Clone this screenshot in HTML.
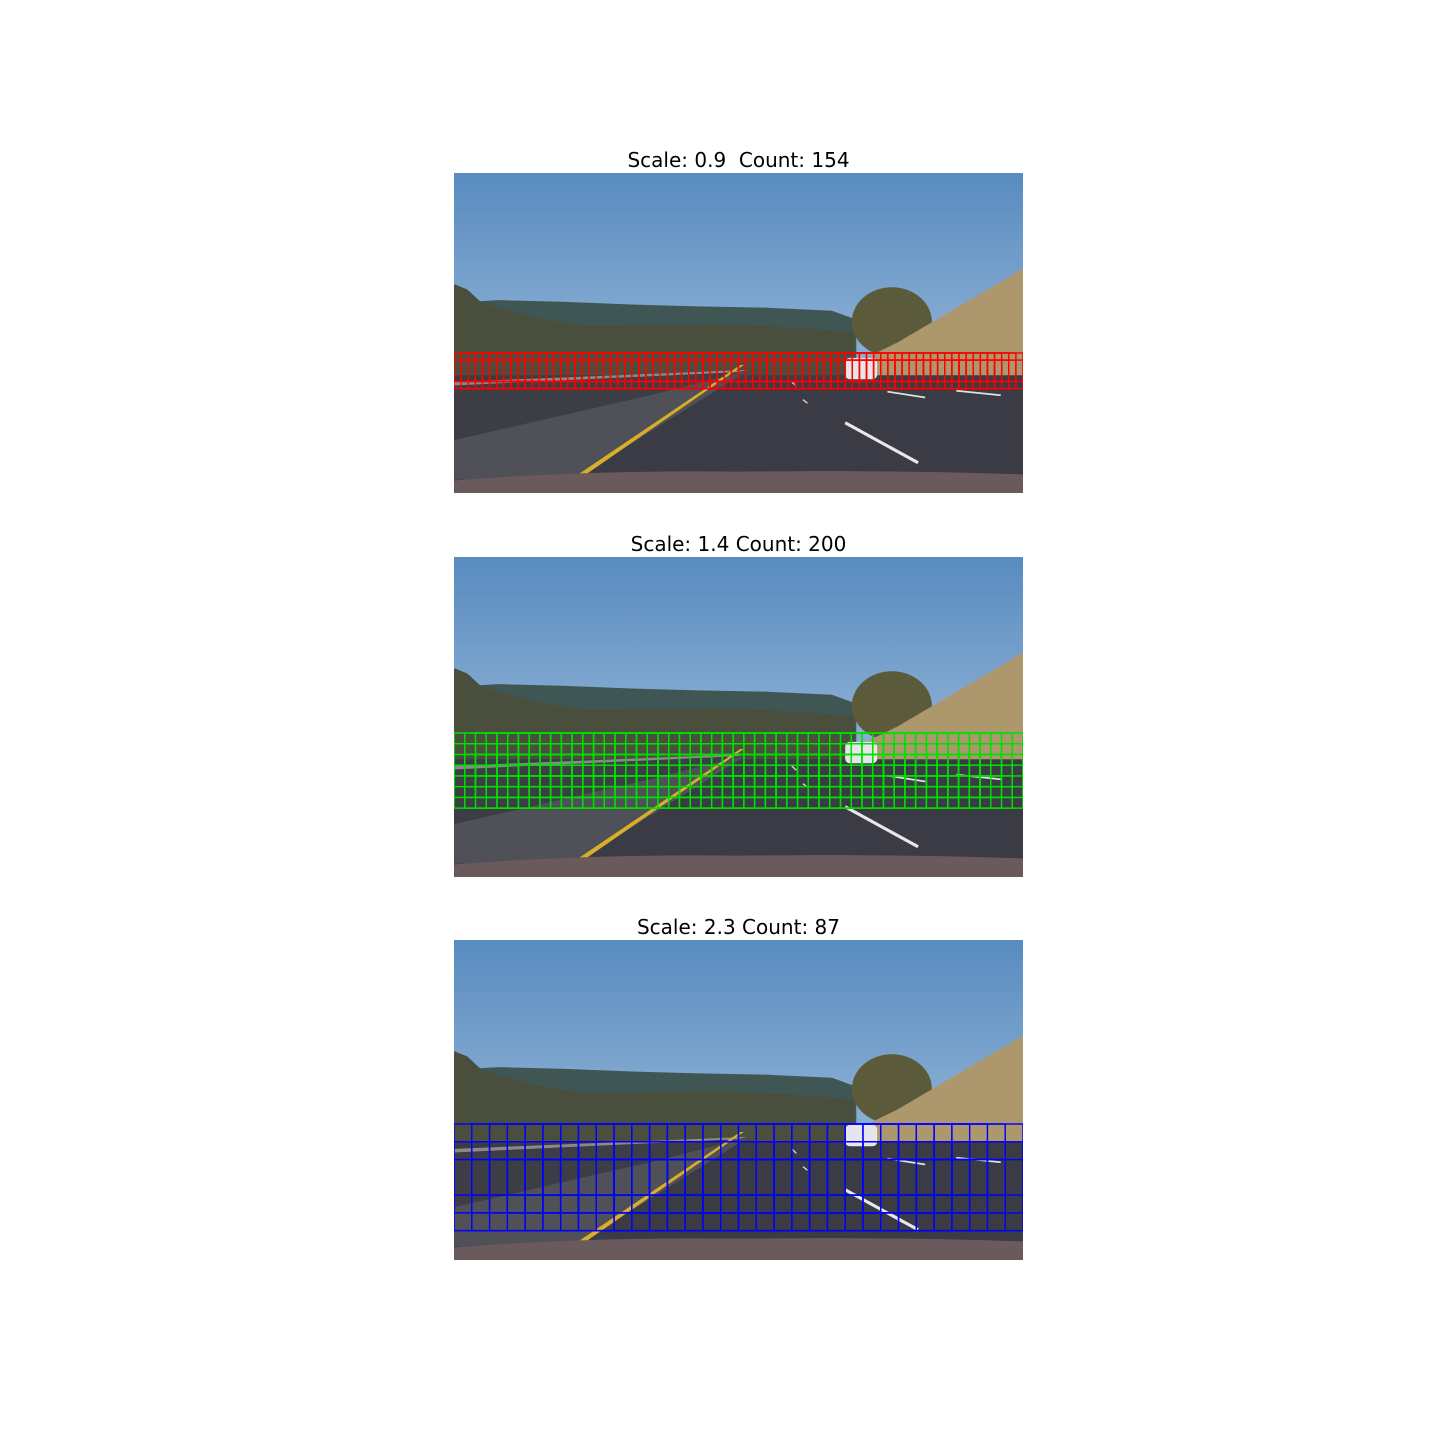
<!DOCTYPE html>
<html><head><meta charset="utf-8"><style>
html,body{margin:0;padding:0;background:#fff;}
body{width:1440px;height:1440px;position:relative;overflow:hidden;font-family:"DejaVu Sans","Liberation Sans",sans-serif;}
.title{position:absolute;left:404px;width:669px;text-align:center;font-size:20px;color:#000;white-space:pre;line-height:24px;}
.panel{position:absolute;left:454px;width:569px;height:320px;}
</style></head><body>
<svg width="0" height="0" style="position:absolute">
<defs>
<linearGradient id="sky" x1="0" y1="0" x2="0" y2="1">
<stop offset="0" stop-color="#588bbf"/><stop offset="0.5" stop-color="#86acd2"/><stop offset="1" stop-color="#8fb4d6"/></linearGradient>
<g id="scene">
<rect x="0" y="0" width="1280" height="720" fill="url(#sky)"/>
<polygon points="0,292 100,286 250,290 400,296 550,300 700,303 850,310 905,330 905,460 0,460" fill="#3f5654"/>
<polygon points="0,250 30,262 60,290 120,310 200,330 300,345 450,342 600,340 800,350 900,360 905,470 0,480" fill="#4a4e3c"/>
<ellipse cx="985" cy="335" rx="90" ry="78" fill="#5b5a3a"/>
<polygon points="935,412 1000,380 1280,215 1280,485 935,485" fill="#ad976d"/>
<polygon points="0,455 1280,455 1280,700 0,700" fill="#3a3b44"/>
<polygon points="0,480 660,445 441,500 0,601" fill="#3c3d45"/>
<polygon points="0,601 441,500 660,445 270,690 0,690" fill="#4f5058"/>
<polygon points="0,470 660,443 640,448 0,478" fill="#8a8a88"/>
<polygon points="262,690 280,690 652,432 644,432" fill="#d9ae2a"/>
<line x1="880" y1="562" x2="1044" y2="652" stroke="#e8e8e8" stroke-width="7"/>
<line x1="975" y1="492" x2="1060" y2="505" stroke="#e0e0e0" stroke-width="4"/>
<line x1="1130" y1="490" x2="1230" y2="500" stroke="#e0e0e0" stroke-width="4"/>
<line x1="760" y1="470" x2="770" y2="480" stroke="#dcdcdc" stroke-width="3"/>
<line x1="785" y1="510" x2="795" y2="518" stroke="#dcdcdc" stroke-width="3"/>
<rect x="880" y="416" width="72" height="48" rx="10" fill="#e6e6ea"/>
<path d="M0,692 Q300,668 640,672 Q1000,668 1280,678 L1280,720 L0,720 Z" fill="#6b5a5c"/>
</g>
</defs>
</svg>
<div id="root"></div>
<script>
const scales = [0.9, 1.4, 2.3];
const counts = [154, 200, 87];
const columns = [77, 50, 29];
const yStarts = [405, 396, 414];
const colors = ['#ff0000', '#00e000', '#0000ff'];
const titles = ['Scale: 0.9  Count: 154', 'Scale: 1.4 Count: 200', 'Scale: 2.3 Count: 87'];
const panelTops = [173, 557, 940];
const NS = 'http://www.w3.org/2000/svg';
const root = document.getElementById('root');
for (let p = 0; p < scales.length; p++) {
  const t = document.createElement('div');
  t.className = 'title';
  t.style.top = (panelTops[p] - 25) + 'px';
  t.textContent = titles[p];
  
  
  root.appendChild(t);
  const svg = document.createElementNS(NS, 'svg');
  svg.setAttribute('class', 'panel');
  svg.setAttribute('viewBox', '0 0 1280 720');
  svg.setAttribute('preserveAspectRatio', 'none');
  svg.style.top = panelTops[p] + 'px';
  
  
  const u = document.createElementNS(NS, 'use');
  u.setAttribute('href', '#scene');
  svg.appendChild(u);
  const cols = columns[p];
  const rows = Math.round(counts[p] / cols);
  const step = 1280 / (cols + 3);
  const win = step * 4;
  const g = document.createElementNS(NS, 'g');
  
  
  for (let r = 0; r < rows; r++) {
    for (let c = 0; c < cols; c++) {
      const rect = document.createElementNS(NS, 'rect');
      rect.setAttribute('x', c * step);
      rect.setAttribute('y', yStarts[p] + r * step);
      rect.setAttribute('width', win);
      rect.setAttribute('height', win);
      rect.setAttribute('fill', 'none');
      rect.setAttribute('stroke', colors[p]);
      rect.setAttribute('stroke-width', '3.2');
      
      
      g.appendChild(rect);
    }
  }
  svg.appendChild(g);
  root.appendChild(svg);
}
</script>
</body></html>
